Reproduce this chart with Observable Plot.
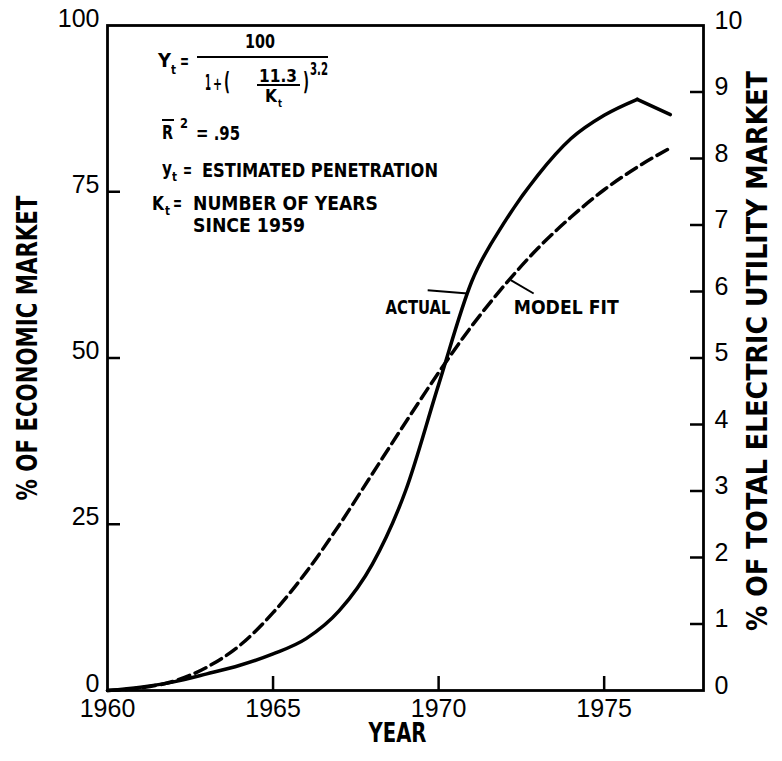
<!DOCTYPE html>
<html><head><meta charset="utf-8">
<script src="https://cdn.jsdelivr.net/npm/d3@7"></script>
<script src="https://cdn.jsdelivr.net/npm/@observablehq/plot@0.6"></script>
<style>
body{margin:0;background:#fff;}
#wrap{position:relative;width:782px;height:761px;background:#fff;}
.ann{position:absolute;font-family:"DejaVu Sans",sans-serif;font-weight:bold;color:#000;white-space:nowrap;line-height:1;transform-origin:0 50%;}
.bar{position:absolute;background:#000;}
</style></head><body>
<div id="wrap"></div>
<script>
// ---- data ----
const years = [1960,1961,1962,1963,1964,1965,1966,1967,1968,1969,1970,1971,1972,1973,1974,1975,1976,1977];
const actualPct = [0,0.5,1.3,2.5,3.8,5.5,7.8,12,19,30,46,61.5,70.5,77.5,83,86.5,88.9,86.6];
const modelFitPct = [0,0.4,1.4,3.5,6.8,11.7,17.8,24.9,32.6,40.3,47.8,54.8,61.0,66.5,71.2,75.3,78.7,81.6];
const leftTicks = [0,25,50,75,100];
const rightTicks = [0,10,20,30,40,50,60,70,80,90,100];
const rightTickLabels = ["0","1","2","3","4","5","6","7","8","9","10"];
const xTicks = [1960,1965,1970,1975];
const curveLabels = [
  {year:1970.36, value:57.6, text:"ACTUAL", anchor:"end"},
  {year:1972.27, value:57.6, text:"MODEL FIT", anchor:"start"}
];
const leaders = [
  {x1:1969.67, y1:60.2, x2:1970.88, y2:59.7},
  {x1:1972.18, y1:61.7, x2:1972.87, y2:59.7}
];
const yTitleLeft = "% OF ECONOMIC MARKET";
const yTitleRight = "% OF TOTAL ELECTRIC UTILITY MARKET";
const xTitle = "YEAR";

const rows = years.map((year,i)=>({year, actual: actualPct[i], model: modelFitPct[i]}));
const boldFont = '"DejaVu Sans",sans-serif';
const numFont = '"Liberation Sans",Arial,sans-serif';
const W = 782, H = 761, mL = 107, mR = 79, mT = 25, mB = 71;
const fw = W - mL - mR, fh = H - mT - mB;

const chart = Plot.plot({
  width: W, height: H,
  marginLeft: mL, marginRight: mR, marginTop: mT, marginBottom: mB,
  style: {fontFamily: numFont, fontSize: "25px", color: "#000", background: "#fff", overflow: "visible"},
  x: {domain: [1960, 1978]},
  y: {domain: [0, 100]},
  marks: [
    Plot.frame({stroke: "#000", strokeWidth: 2.8}),
    // inward ticks
    Plot.tickY(leftTicks.filter(d=>d>0 && d<100), {y: d=>d, insetRight: fw - 13, stroke: "#000", strokeWidth: 2.5}),
    Plot.tickY(rightTicks.filter(d=>d>0 && d<100), {y: d=>d, insetLeft: fw - 13, stroke: "#000", strokeWidth: 2.5}),
    Plot.tickX(xTicks.filter(d=>d>1960), {x: d=>d, insetTop: fh - 14, stroke: "#000", strokeWidth: 2.5}),
    // tick labels
    Plot.axisY({anchor: "left", ticks: leftTicks, tickSize: 0, tickPadding: 8, dy: -7, label: null, fontSize: 25}),
    Plot.axisY({anchor: "right", ticks: rightTicks, tickFormat: d=>rightTickLabels[rightTicks.indexOf(d)], tickSize: 0, tickPadding: 11, dy: -5, label: null, fontSize: 25}),
    Plot.axisX({anchor: "bottom", ticks: xTicks, tickFormat: d=>String(d), tickSize: 0, tickPadding: 9, label: null, fontSize: 25}),
    // curves
    Plot.line(rows.filter(d=>d.year<=1976), {x: "year", y: "actual", curve: "monotone-x", stroke: "#000", strokeWidth: 3.5}),
    Plot.line(rows.filter(d=>d.year>=1976), {x: "year", y: "actual", stroke: "#000", strokeWidth: 3.5}),
    Plot.line(rows, {x: "year", y: "model", curve: "monotone-x", stroke: "#000", strokeWidth: 3.5, strokeDasharray: "12,6"}),
    // annotations
    Plot.link(leaders, {x1: "x1", y1: "y1", x2: "x2", y2: "y2", stroke: "#000", strokeWidth: 2}),
    Plot.text(curveLabels.filter(d=>d.anchor==="end"), {x: "year", y: "value", text: "text", textAnchor: "end", fontFamily: boldFont, fontWeight: "bold", fontSize: 20}),
    Plot.text(curveLabels.filter(d=>d.anchor==="start"), {x: "year", y: "value", text: "text", textAnchor: "start", fontFamily: boldFont, fontWeight: "bold", fontSize: 20}),
    Plot.text([yTitleLeft], {text: d=>d, frameAnchor: "left", textAnchor: "middle", rotate: -90, dx: -79, dy: -10, fontFamily: boldFont, fontWeight: "bold", fontSize: 28}),
    Plot.text([yTitleRight], {text: d=>d, frameAnchor: "right", textAnchor: "middle", rotate: -90, dx: 55, dy: -7, fontFamily: boldFont, fontWeight: "bold", fontSize: 28}),
    Plot.text([xTitle], {text: d=>d, frameAnchor: "bottom", textAnchor: "middle", dx: -8, dy: 51, fontFamily: boldFont, fontWeight: "bold", fontSize: 27})
  ]
});
const wrap = document.getElementById("wrap");
wrap.appendChild(chart);

// condense the lettering to the widths measured on the reference
const fitWidths = {[yTitleLeft]: 305, [yTitleRight]: 560, [xTitle]: 58, "ACTUAL": 65, "MODEL FIT": 105};
d3.select(chart).selectAll("text").each(function(){
  const t = this.textContent;
  const target = fitWidths[t];
  if (!target) return;
  const nat = this.getComputedTextLength();
  if (!nat) return;
  const s = target / nat;
  const xa = this.getAttribute("x");
  let pre = "";
  if (xa !== null && /^-?[\d.]+$/.test(xa)) { pre = ` translate(${xa},0)`; this.removeAttribute("x"); }
  const tr = this.getAttribute("transform") || "";
  this.setAttribute("transform", `${tr}${pre} scale(${s},1)`);
});

// ---- formula annotation (HTML overlay) ----
function put(txt, x, yc, size, width, anchor="start") {
  const el = document.createElement("div");
  el.className = "ann";
  el.textContent = txt;
  el.style.fontSize = size + "px";
  el.style.top = (yc - 0.49*size) + "px";
  wrap.appendChild(el);
  const nat = el.getBoundingClientRect().width;
  const s = width ? width / nat : 1;
  const left = anchor === "middle" ? x - (width || nat)/2 : x;
  el.style.left = left + "px";
  el.style.transform = "scaleX(" + s + ")";
}
function bar(x1, x2, y, w=2) {
  const el = document.createElement("div");
  el.className = "bar";
  el.style.left = x1 + "px"; el.style.top = (y - w/2) + "px";
  el.style.width = (x2 - x1) + "px"; el.style.height = w + "px";
  wrap.appendChild(el);
}
put("Y", 158, 59.5, 20, 13); put("t", 171, 70, 12, 5); put("=", 180, 61, 20, 9);
put("100", 260, 41.5, 19, 30, "middle");
bar(197, 328, 57, 2.5);
put("1", 205, 83, 21, 6); put("+", 213, 84, 18, 9); put("(", 224, 82, 24, 6);
put("11.3", 278, 76, 18, 38, "middle");
bar(257, 300, 85, 2);
put("K", 265, 96, 18, 12); put("t", 278, 103, 11, 4);
put(")", 303, 82, 24, 6);
put("3.2", 310, 69, 17, 18);
put("R", 162, 132, 20, 11); bar(162, 174, 120, 2); put("2", 180, 123, 14, 8); put("= .95", 196, 133, 20, 44);
put("y", 162, 168, 20, 10); put("t", 172, 177, 12, 5); put("=", 183, 170, 20, 9);
put("ESTIMATED PENETRATION", 202, 170, 20, 236);
put("K", 152, 203, 20, 12); put("t", 165, 211, 12, 5); put("=", 173, 203, 20, 9);
put("NUMBER OF YEARS", 193, 203, 20, 185);
put("SINCE 1959", 193, 225, 20, 112);
</script>
</body></html>
